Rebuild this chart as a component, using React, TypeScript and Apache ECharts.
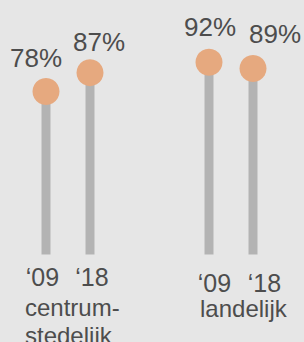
import React, { useEffect, useRef } from "react";
import * as echarts from "echarts";

const groups = ["centrum-\nstedelijk", "landelijk"];
const years = ["\u201809", "\u201818"];
const centrumValues = [78, 87];
const landelijkValues = [92, 89];

const TEXT = "#4d4d4d";
const BAR = "#b3b3b3";
const DOT = "#e6a97f";
const BG = "#e6e6e6";
const FONT = "'Liberation Sans', Arial, sans-serif";

// label offsets (style only)
const leftOffsets = [[-10, -33], [9, -30.5]];
const rightOffsets = [[1, -35.5], [22, -34.3]];
const leftYearPad = [[0, 7, 0, 0], [0, 0, 0, 4]];
const rightYearPad = [[0, 0, 0, 11], [0, 0, 0, 23]];

export default function App() {
  const ref = useRef<HTMLDivElement>(null);
  useEffect(() => {
    document.body.style.margin = "0";
    const chart = echarts.init(ref.current!, null, { renderer: "svg" });
    const xAxis = (idx: number, pads: number[][], margin: number) => ({
      type: "category",
      gridIndex: idx,
      data: years.map((y, i) => ({ value: y, textStyle: { padding: pads[i] } })),
      axisLine: { show: false },
      axisTick: { show: false },
      axisLabel: {
        interval: 0,
        hideOverlap: false,
        color: TEXT,
        fontSize: 25,
        fontFamily: FONT,
        lineHeight: 25,
        margin,
      },
    });
    const yAxis = (idx: number) => ({
      type: "value",
      gridIndex: idx,
      min: 0,
      max: 100,
      show: false,
    });
    const bar = (idx: number, vals: number[]) => ({
      type: "bar",
      xAxisIndex: idx,
      yAxisIndex: idx,
      data: vals,
      barWidth: 9,
      itemStyle: { color: BAR },
      silent: true,
    });
    const dots = (idx: number, vals: number[], offs: number[][]) => ({
      type: "scatter",
      xAxisIndex: idx,
      yAxisIndex: idx,
      symbolSize: 27,
      itemStyle: { color: DOT, opacity: 1 },
      data: vals.map((v, i) => ({
        value: v,
        label: {
          show: true,
          position: "inside",
          offset: offs[i],
          formatter: "{c}%",
          color: TEXT,
          fontSize: 26,
          fontFamily: FONT,
        },
      })),
    });
    chart.setOption({
      animation: false,
      backgroundColor: BG,
      grid: [
        { left: 24, width: 88, top: 45.5, height: 209 },
        { left: 187, width: 88, top: 45.5, height: 209 },
      ],
      xAxis: [xAxis(0, leftYearPad, 10), xAxis(1, rightYearPad, 15.5)],
      yAxis: [yAxis(0), yAxis(1)],
      series: [
        bar(0, centrumValues),
        bar(1, landelijkValues),
        dots(0, centrumValues, leftOffsets),
        dots(1, landelijkValues, rightOffsets),
      ],
      graphic: [
        {
          type: "text",
          left: 25,
          top: 293,
          style: {
            text: groups[0],
            fill: TEXT,
            font: `24px ${FONT}`,
            lineHeight: 28,
          },
        },
        {
          type: "text",
          left: 200,
          top: 294,
          style: {
            text: groups[1],
            fill: TEXT,
            font: `24px ${FONT}`,
            lineHeight: 28,
          },
        },
      ],
    });
    return () => chart.dispose();
  }, []);
  return <div ref={ref} style={{ width: 304, height: 342 }} />;
}
